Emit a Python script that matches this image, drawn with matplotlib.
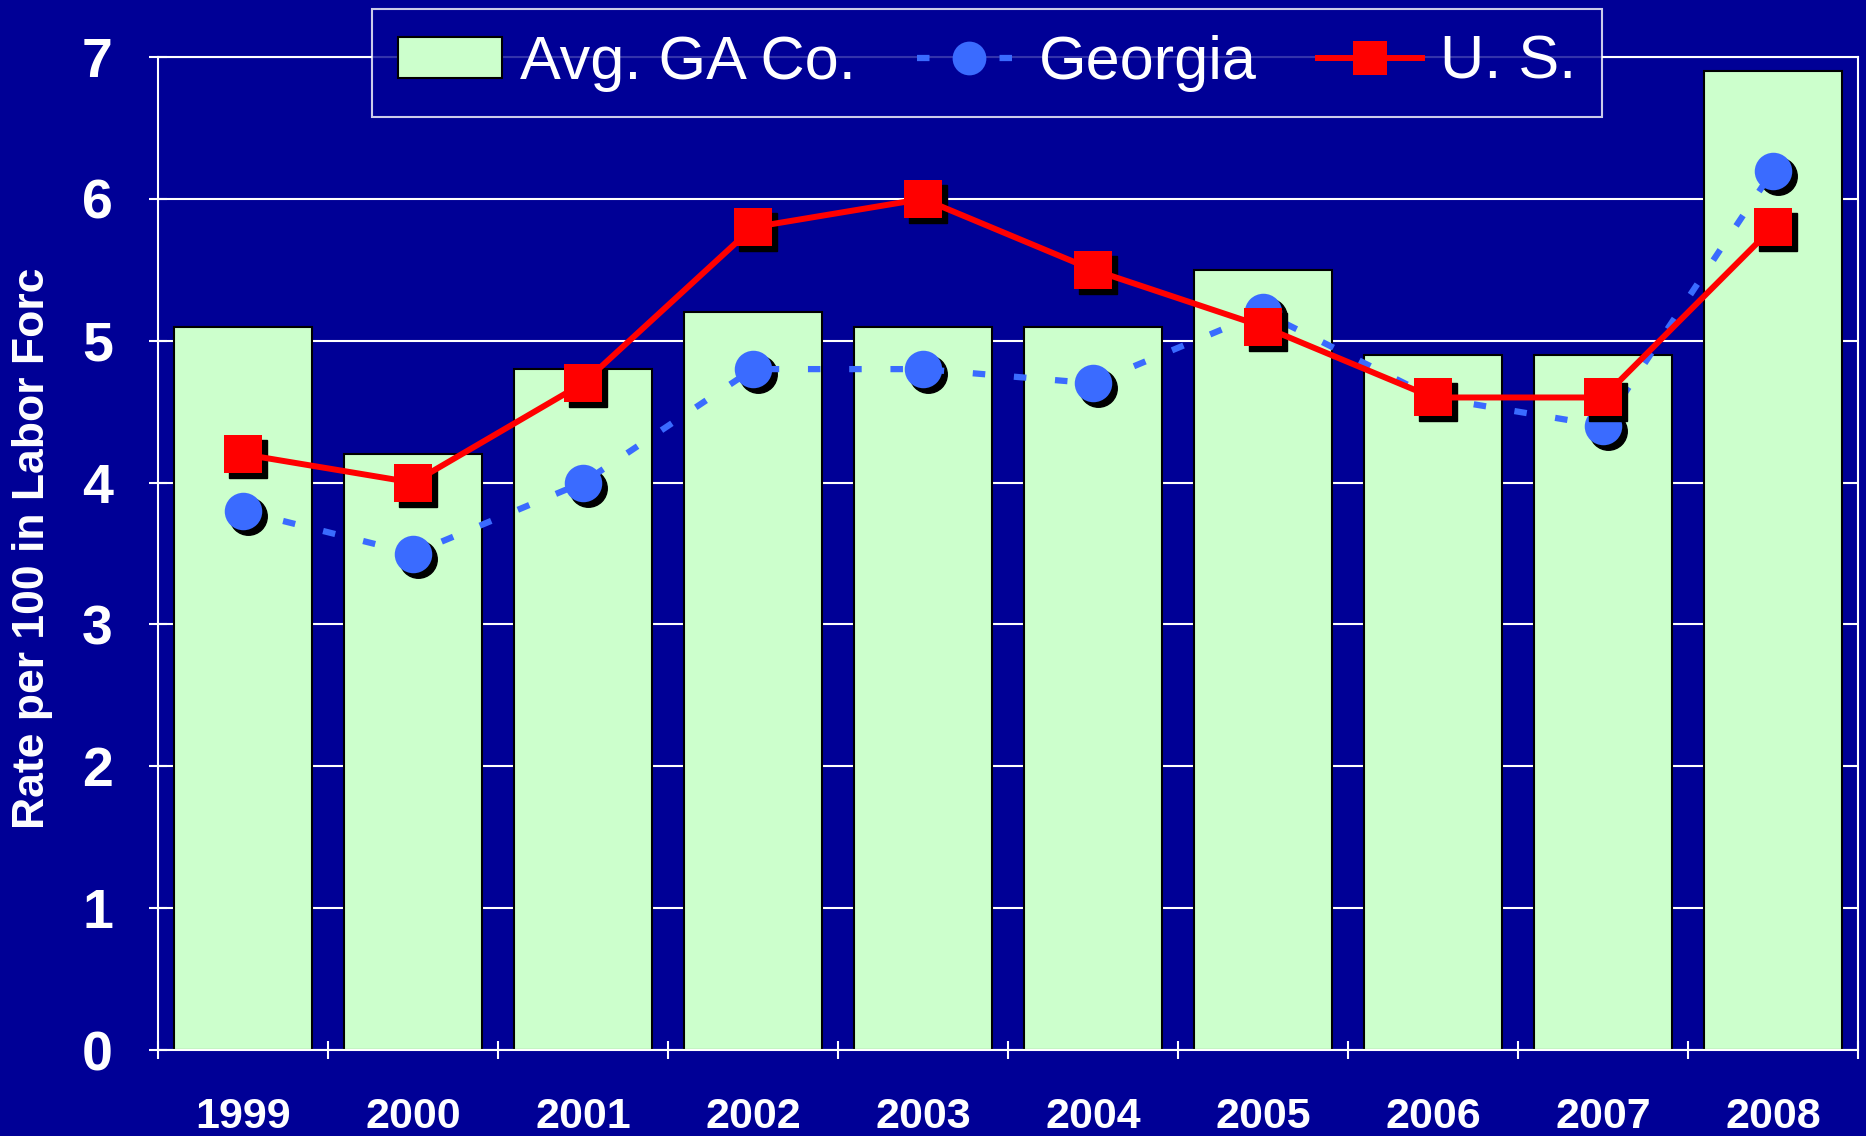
import matplotlib.pyplot as plt
import matplotlib.transforms as mtransforms
import numpy as np

# Data
years = ['1999', '2000', '2001', '2002', '2003', '2004', '2005', '2006', '2007', '2008']
avg_ga_co = [5.1, 4.2, 4.8, 5.2, 5.1, 5.1, 5.5, 4.9, 4.9, 6.9]
georgia = [3.8, 3.5, 4.0, 4.8, 4.8, 4.7, 5.2, 4.6, 4.4, 6.2]
us = [4.2, 4.0, 4.7, 5.8, 6.0, 5.5, 5.1, 4.6, 4.6, 5.8]

navy = '#000096'
green = '#CCFFCC'
blue = '#3A6BFF'
red = '#FF0000'
font = ['Liberation Sans', 'DejaVu Sans']

fig = plt.figure(figsize=(18.66, 11.36), dpi=100, facecolor=navy)
ax = fig.add_axes([0.0847, 0.0757, 0.9110, 0.8741])
ax.set_facecolor(navy)

x = np.arange(len(years))
bars = ax.bar(x, avg_ga_co, width=0.81, color=green, edgecolor='black',
              linewidth=1.5, zorder=2, label='Avg. GA Co.')

# offset copy for the black drop shadow under the markers
shadow = mtransforms.offset_copy(ax.transData, fig=fig, x=5, y=-5, units='dots')

ax.plot(x, georgia, linestyle='none', marker='o', markersize=27, color='black',
        transform=shadow, zorder=2.9)
ga_line, = ax.plot(x, georgia, color=blue, linewidth=4.5, dashes=(2, 4.6),
                   marker='o', markersize=27, markeredgewidth=0,
                   markerfacecolor=blue, zorder=3, label='Georgia')

ax.plot(x, us, linestyle='none', marker='s', markersize=27, color='black',
        transform=shadow, zorder=3.9)
us_line, = ax.plot(x, us, color=red, linewidth=4.3, marker='s', markersize=27,
                   markeredgewidth=0, zorder=4, label='U. S.')

ax.set_xlim(-0.5, len(years) - 0.5)
ax.set_ylim(0, 7)
ax.set_yticks(range(8))
ax.set_xticks(x)
ax.set_xticklabels(years)
ax.set_xticks(np.arange(-0.5, len(years), 1), minor=True)

ax.yaxis.grid(True, color='white', linewidth=1.5)
ax.set_axisbelow(True)

for s in ax.spines.values():
    s.set_color('white')
    s.set_linewidth(1.5)

ax.tick_params(axis='x', which='major', length=0, pad=34, labelsize=31,
               labelcolor='white')
ax.tick_params(axis='x', which='minor', direction='inout', length=13,
               width=1.5, color='white')
ax.tick_params(axis='y', direction='inout', length=13, width=1.5, color='white',
               pad=26, labelsize=40, labelcolor='white')
for lab in ax.get_xticklabels() + ax.get_yticklabels():
    lab.set_fontweight('bold')
    lab.set_family(font)

ax.set_ylabel('Rate per 100 in Labor Forc', fontsize=32, fontweight='bold',
              color='white', family=font)
ax.yaxis.set_label_coords(-0.062, 0.505)

leg = fig.legend([bars, ga_line, us_line], ['Avg. GA Co.', 'Georgia', 'U. S.'],
                 loc='upper center', bbox_to_anchor=(0.529, 0.992), ncol=3,
                 frameon=True, fancybox=False, facecolor=navy, edgecolor='white',
                 prop={'family': font, 'size': 44},
                 handlelength=1.7, handleheight=0.65, handletextpad=0.3,
                 columnspacing=1.0, borderpad=0.42, borderaxespad=0,
                 markerscale=0.9)
leg.get_frame().set_linewidth(1.5)
for t in leg.get_texts():
    t.set_color('white')

plt.savefig('out.png', dpi=100, facecolor=navy)
